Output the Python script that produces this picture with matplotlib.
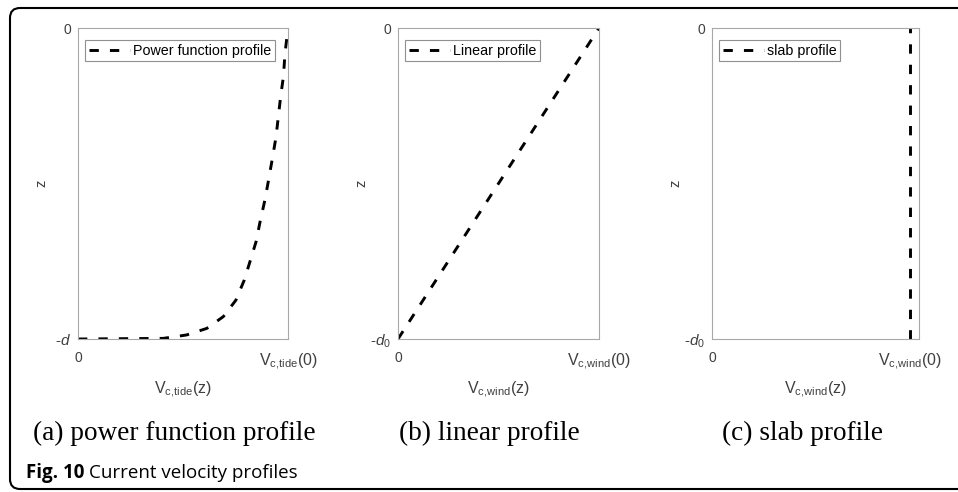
"""Current velocity profiles (Fig. 10): power function, linear and slab."""
import matplotlib
matplotlib.use("Agg")
import matplotlib.pyplot as plt
from matplotlib.patches import FancyBboxPatch

plt.rcParams["font.family"] = ["Liberation Sans", "DejaVu Sans"]
plt.rcParams["mathtext.fontset"] = "custom"
plt.rcParams["mathtext.rm"] = "Liberation Sans"
plt.rcParams["mathtext.it"] = "Liberation Sans:italic"

# valeurs (v normalisée, z normalisé par la profondeur)
tide_v = [0.0, 0.406, 0.517, 0.613, 0.692, 0.752, 0.792, 0.819, 0.848, 0.867,
          0.890, 0.906, 0.927, 0.943, 0.954, 0.965, 0.978, 0.986, 1.0]
tide_z = [-1.0, -0.998, -0.987, -0.966, -0.928, -0.875, -0.81, -0.751, -0.687, -0.623,
          -0.553, -0.494, -0.414, -0.35, -0.285, -0.22, -0.157, -0.08, 0.0]
wind_lin_v = [0.0, 1.0]
wind_lin_z = [-1.0, 0.0]
slab_v = [1.0, 1.0]
slab_z = [-1.0, 0.0]

legendes = ["Power function profile", "Linear profile", "slab profile"]
ytick_bas = [r"-$d$", r"-$d_{\mathit{0}}$", r"-$d_{\mathit{0}}$"]
xtick_haut = [r"$\mathrm{V_{c{,}tide}(0)}$", r"$\mathrm{V_{c{,}wind}(0)}$",
              r"$\mathrm{V_{c{,}wind}(0)}$"]
xlabels = [r"$\mathrm{V_{c{,}tide}(z)}$", r"$\mathrm{V_{c{,}wind}(z)}$",
           r"$\mathrm{V_{c{,}wind}(z)}$"]
sous_titres = ["(a) power function profile", "(b) linear profile", "(c) slab profile"]
xmax = [1.0, 1.0, 1.045]

W, H = 958, 492
fig = plt.figure(figsize=(W / 100, H / 100), dpi=100)

# cadre arrondi autour de la figure
fond = fig.add_axes([0, 0, 1, 1])
fond.set_xlim(0, W)
fond.set_ylim(H, 0)
fond.axis("off")
fond.add_patch(FancyBboxPatch((10, 8), 980, 481, boxstyle="round,pad=0,rounding_size=10",
                              fc="none", ec="black", lw=1.5, clip_on=False))

# positions des axes en pixels : gauche, droite
cadres = [(78, 288), (398, 599), (712, 919)]
haut, bas = 28, 339
centres_sous_titres = [174, 489, 803]

series = [(tide_v, tide_z), (wind_lin_v, wind_lin_z), (slab_v, slab_z)]
gris = "#404040"

for i, ((g, d), (xs, zs)) in enumerate(zip(cadres, series)):
    ax = fig.add_axes([g / W, (H - bas) / H, (d - g) / W, (bas - haut) / H])
    ax.plot(xs, zs, color="black", lw=2.1, dashes=(3.2, 3.8), label=legendes[i])
    ax.set_xlim(0, xmax[i])
    ax.set_ylim(-1, 0)
    for s in ax.spines.values():
        s.set_color("#a8a8a8")
        s.set_linewidth(0.8)
    ax.set_xticks([0, 1])
    ax.set_xticklabels(["0", xtick_haut[i]])
    ax.set_yticks([-1, 0])
    ax.set_yticklabels([ytick_bas[i], "0"])
    ax.tick_params(length=0, labelcolor=gris)
    ax.tick_params(axis="x", pad=9)
    ax.tick_params(axis="y", pad=5)
    xt = ax.get_xticklabels()
    xt[0].set_fontsize(10)
    xt[1].set_fontsize(11.5)
    yt = ax.get_yticklabels()
    yt[0].set_fontsize(11)
    yt[1].set_fontsize(10)
    ax.set_ylabel("z", fontsize=10.5, color=gris)
    ax.yaxis.set_label_coords(-30 / (d - g), 0.5)
    ax.set_xlabel(xlabels[i], fontsize=11.5, color=gris)
    ax.xaxis.set_label_coords(0.5, -0.13)

    leg = ax.legend(loc="upper left", bbox_to_anchor=(7 / (d - g), 1 - 12 / (bas - haut)),
                    borderaxespad=0, fancybox=False, framealpha=1, fontsize=10.3,
                    handlelength=2.9, handletextpad=0.2, borderpad=0.25)
    leg.get_frame().set_edgecolor("#909090")
    leg.get_frame().set_linewidth(0.8)

    fig.text(centres_sous_titres[i] / W, 1 - 440 / H, sous_titres[i], ha="center",
             va="baseline", fontsize=19.6, family="Liberation Serif")

fig_txt = fig.text(26 / W, 1 - 478 / H, "Fig. 10", fontsize=13.5, weight="bold",
                   family="Open Sans", va="baseline")
rend = fig.canvas.get_renderer()
fin = fig_txt.get_window_extent(rend).x1
fig.text((fin + 5) / W, 1 - 478 / H, "Current velocity profiles", fontsize=13.5,
         family="Open Sans", va="baseline")

fig.savefig("out.png", dpi=100)
